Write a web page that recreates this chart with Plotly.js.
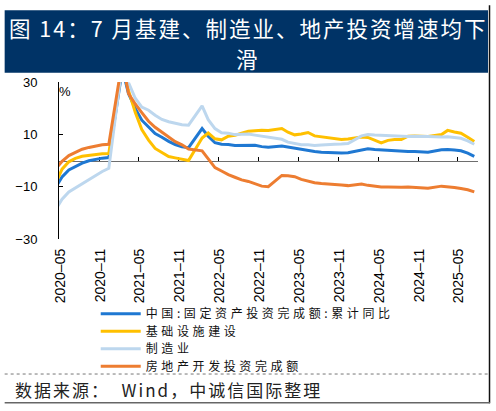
<!DOCTYPE html>
<html>
<head>
<meta charset="utf-8">
<script src="https://cdn.plot.ly/plotly-3.0.1.min.js"></script>
<style>
html,body{margin:0;padding:0;background:#fff;}
#chart{width:496px;height:411px;}
text.legendtext, text[class*="legend"], [class*="legend"] text{letter-spacing:3.6px !important;}
g.annotation[data-index="0"] text{letter-spacing:2px;}
g.annotation[data-index="3"] text{letter-spacing:2px;}
</style>
</head>
<body>
<div id="chart"></div>
<script>
// Months (cumulative data, January not published)
const months = [
 '2020-04','2020-05','2020-06','2020-07','2020-08','2020-09','2020-10','2020-11','2020-12',
 '2021-02','2021-03','2021-04','2021-05','2021-06','2021-07','2021-08','2021-09','2021-10','2021-11','2021-12',
 '2022-02','2022-03','2022-04','2022-05','2022-06','2022-07','2022-08','2022-09','2022-10','2022-11','2022-12',
 '2023-02','2023-03','2023-04','2023-05','2023-06','2023-07','2023-08','2023-09','2023-10','2023-11','2023-12',
 '2024-02','2024-03','2024-04','2024-05','2024-06','2024-07','2024-08','2024-09','2024-10','2024-11','2024-12',
 '2025-02','2025-03','2025-04','2025-05','2025-06','2025-07'
];
// 中国:固定资产投资完成额:累计同比
const fai = [-10.3,-6.3,-3.6,-2.2,-1.0,-0.1,0.5,0.9,1.1,
 35.0,25.6,19.9,15.4,12.6,10.3,8.9,7.3,6.1,5.2,4.9,
 12.2,9.3,6.8,6.2,6.1,5.7,5.8,5.9,5.8,5.3,5.1,
 5.5,5.1,4.7,4.0,3.8,3.4,3.2,3.1,2.9,2.9,3.0,
 4.2,4.5,4.2,4.0,3.9,3.6,3.4,3.4,3.4,3.3,3.2,
 4.1,4.2,4.0,3.7,2.8,1.6];
// 基础设施建设
const infra = [-8.8,-3.3,-0.5,0.8,1.6,2.0,2.3,2.6,2.7,
 36.6,26.8,18.4,11.8,7.8,4.6,2.9,1.5,1.0,0.5,0.0,
 8.6,10.5,8.3,7.9,9.3,9.6,10.4,11.2,11.4,11.6,11.5,
 12.2,10.8,9.8,10.1,10.7,9.4,9.0,8.6,8.3,8.0,8.2,
 9.0,8.8,7.8,6.7,7.7,8.0,8.0,9.3,9.4,9.4,9.2,
 9.9,11.5,10.9,10.4,8.9,7.3];
// 制造业
const mfg = [-18.8,-14.8,-12.0,-10.5,-8.8,-7.2,-5.6,-4.2,-3.0,
 37.3,29.8,23.8,20.4,19.2,17.3,15.7,14.8,14.2,13.7,13.5,
 20.9,15.6,12.2,10.6,10.4,9.9,10.0,10.1,9.7,9.3,9.1,
 8.1,7.0,6.4,6.0,6.0,5.7,5.9,6.2,6.2,6.3,6.5,
 9.4,9.9,9.7,9.6,9.5,9.3,9.1,9.2,9.3,9.3,9.2,
 9.0,9.1,8.8,8.5,7.5,6.2];
// 房地产开发投资完成额
const realEstate = [-3.3,-0.3,1.9,3.2,4.3,5.0,5.6,6.0,6.2,
 38.3,25.6,21.6,18.3,15.0,12.7,10.9,8.8,7.2,6.0,4.4,
 3.7,0.7,-2.7,-4.0,-5.4,-6.4,-7.4,-8.0,-8.8,-9.8,-10.0,
 -5.7,-5.8,-6.2,-7.2,-7.9,-8.5,-8.8,-9.1,-9.3,-9.4,-9.6,
 -9.0,-9.5,-9.8,-10.1,-10.1,-10.2,-10.2,-10.1,-10.3,-10.4,-10.6,
 -9.8,-9.9,-10.3,-10.7,-11.2,-12.0];

const seriesNames = ['中国:固定资产投资完成额:累计同比','基础设施建设','制造业','房地产开发投资完成额'];
const seriesColors = ['#1f78d2','#ffc000','#bdd7ee','#ed7d31'];
const seriesData = [fai, infra, mfg, realEstate];

const titleLine1 = '图 14：7 月基建、制造业、地产投资增速均下';
const titleLine2 = '滑';
const sourceText = '数据来源：  Wind，中诚信国际整理';

const xDates = months.map(m => m + '-15');
const xRange = ['2020-05-01','2025-08-01'];
const legendIds = ['legend','legend2','legend3','legend4'];

const traces = seriesData.map((d,i) => ({
  type:'scatter', mode:'lines', x:xDates, y:d, name:seriesNames[i],
  legend:legendIds[i],
  line:{color:seriesColors[i], width:3}, hoverinfo:'skip'
}));
traces.push({type:'scatter', mode:'lines', x:[], y:[], xaxis:'x2', yaxis:'y', showlegend:false, hoverinfo:'skip'});

// pixel -> paper helpers
const L=59.3, R=478, T=81.9, B=239.1;
const px = v => (v-L)/(R-L);
const py = v => (B-v)/(B-T);

const legendFont = {family:'Noto Sans CJK SC, sans-serif', size:12, color:'#111'};
const legendRowsY = [314, 331.5, 349, 366.5];
const mkLegend = yy => ({x:px(96), y:py(yy), xanchor:'left', yanchor:'middle', orientation:'h',
    entrywidth:300, entrywidthmode:'pixels',
    bgcolor:'rgba(0,0,0,0)', itemwidth:40, font:legendFont});

const layout = {
  width:496, height:411,
  margin:{l:L, r:496-R, t:T, b:411-B},
  paper_bgcolor:'#fff', plot_bgcolor:'rgba(0,0,0,0)',
  showlegend:true,
  font:{family:'Liberation Sans, Arial, sans-serif', color:'#000', size:13},
  xaxis:{type:'date', range:xRange, tick0:'2020-05-01', dtick:'M6', tickformat:'%Y–%m',
    tickangle:-90, ticks:'', showline:false, showgrid:false, zeroline:false,
    ticklabelstandoff:6, ticklabelshift:1,
    tickfont:{family:'Liberation Sans, Arial, sans-serif', size:14, color:'#000'}},
  xaxis2:{type:'date', range:xRange, overlaying:'x', anchor:'free', position:0.5,
    tick0:'2020-05-01', dtick:'M6', ticks:'inside', ticklen:4, tickwidth:1, tickcolor:'#000',
    showticklabels:false, showline:true, linecolor:'#6e6e6e', linewidth:1.5,
    showgrid:false, zeroline:false, layer:'below traces'},
  yaxis:{range:[-30,30], tick0:-30, dtick:20, ticks:'inside', ticklen:4, tickcolor:'#000',
    showline:true, linecolor:'#000', linewidth:1, showgrid:false, zeroline:false,
    ticklabelstandoff:18,
    tickfont:{family:'Liberation Sans, Arial, sans-serif', size:13, color:'#000'}},
  legend:mkLegend(legendRowsY[0]),
  legend2:mkLegend(legendRowsY[1]),
  legend3:mkLegend(legendRowsY[2]),
  legend4:mkLegend(legendRowsY[3]),
  shapes:[
    {type:'rect', xref:'paper', yref:'paper', x0:px(5), x1:px(488), y0:py(72.7), y1:py(10),
     fillcolor:'#003366', line:{width:0}, layer:'below'},
    {type:'line', xref:'paper', yref:'paper', x0:px(489.5), x1:px(489.5), y0:py(5), y1:py(403.5),
     line:{color:'#111', width:1.5}},
    {type:'line', xref:'paper', yref:'paper', x0:px(5), x1:px(490), y0:py(403), y1:py(403),
     line:{color:'#666', width:1.5}},
    {type:'line', xref:'paper', yref:'paper', x0:px(5), x1:px(489), y0:py(374.3), y1:py(374.3),
     line:{color:'#777', width:1, dash:'dot'}}
  ],
  annotations:[
    {xref:'paper', yref:'paper', x:px(248), y:py(27), xanchor:'center', yanchor:'middle',
     text:titleLine1, showarrow:false,
     font:{family:'Noto Sans CJK SC, sans-serif', size:21.5, color:'#fff'}},
    {xref:'paper', yref:'paper', x:px(247), y:py(58.5), xanchor:'center', yanchor:'middle',
     text:titleLine2, showarrow:false,
     font:{family:'Noto Sans CJK SC, sans-serif', size:21.5, color:'#fff'}},
    {xref:'paper', yref:'paper', x:px(65.5), y:py(91), xanchor:'center', yanchor:'middle',
     text:'%', showarrow:false, font:{family:'Liberation Sans, Arial, sans-serif', size:13, color:'#000'}},
    {xref:'paper', yref:'paper', x:px(168.5), y:py(390), xanchor:'center', yanchor:'middle',
     text:sourceText, showarrow:false,
     font:{family:'Noto Sans CJK SC, sans-serif', size:17, color:'#222'}}
  ]
};

Plotly.newPlot('chart', traces, layout, {displayModeBar:false, staticPlot:true});
</script>
</body>
</html>
